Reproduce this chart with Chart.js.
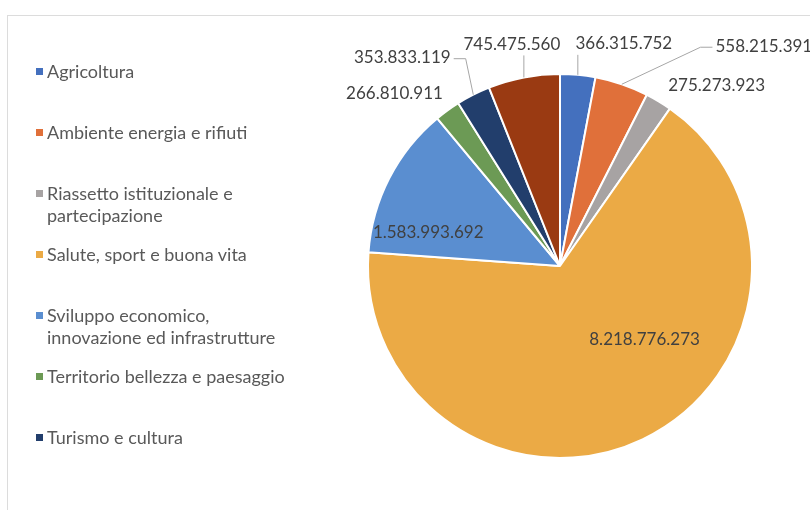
<!DOCTYPE html>
<html>
<head>
<meta charset="utf-8">
<script src="https://cdn.jsdelivr.net/npm/chart.js@4"></script>
<style>
  body { margin: 0; background: #fff; }
  #wrap { position: relative; width: 810px; height: 510px; overflow: hidden; }
  #frame { position: absolute; left: 7px; top: 15px; width: 820px; height: 520px;
           border-left: 1px solid #dcdcdc; border-top: 1px solid #dcdcdc; }
  #legend { position: absolute; left: 36px; top: 0; font-family: Lato, sans-serif;
            font-size: 18px; color: #595959; }
  .item { position: absolute; left: 0; width: 248px; line-height: 22px; padding-left: 11px; }
  .item span { position: absolute; left: 0; top: 8px; width: 7px; height: 7px; }
</style>
</head>
<body>
<div id="wrap">
  <div id="frame"></div>
  <canvas id="pieChart" width="810" height="510"></canvas>
  <div id="legend"></div>
</div>
<script>
var categories = ["Agricoltura", "Ambiente energia e rifiuti", "Riassetto istituzionale e partecipazione",
  "Salute, sport e buona vita", "Sviluppo economico, innovazione ed infrastrutture",
  "Territorio bellezza e paesaggio", "Turismo e cultura", "Altro"];
var values = [366315752, 558215391, 275273923, 8218776273, 1583993692, 266810911, 353833119, 745475560];
var colors = ["#4470be", "#e0703a", "#a7a3a3", "#ebaa45", "#5a8ed0", "#6c9a55", "#223e6c", "#9a3a12"];
// legend shows only the first 7 entries (last one is cut off in the original)
var legendCount = 7;

// label placement, offset from the outer edge of each slice at its mid angle
var labelPos = [
  { dx: 46, dy: -31, line: "v" },
  { dx: 142, dy: -38, line: "h" },
  { dx: 58, dy: -16 },
  { dx: 2, dy: -100 },
  { dx: 39, dy: 54 },
  { dx: -53, dy: -17 },
  { dx: -71, dy: -37, line: "h" },
  { dx: -12, dy: -33, line: "v" },
];

function fmt(v) {
  return String(v).replace(/\B(?=(\d{3})+(?!\d))/g, ".");
}

var legend = document.getElementById("legend");
for (var i = 0; i < legendCount; i++) {
  var d = document.createElement("div");
  d.className = "item";
  d.style.top = (60 + i * 61) + "px";
  d.innerHTML = '<span style="background:' + colors[i] + '"></span>' + categories[i];
  legend.appendChild(d);
}

var labelPlugin = {
  id: "sliceLabels",
  afterDatasetsDraw: function (chart) {
    var ctx = chart.ctx;
    var meta = chart.getDatasetMeta(0);
    ctx.save();
    ctx.font = "17px Lato";
    ctx.fillStyle = "#404040";
    ctx.strokeStyle = "#a6a6a6";
    ctx.lineWidth = 1;
    ctx.textAlign = "center";
    ctx.textBaseline = "middle";
    meta.data.forEach(function (arc, i) {
      var mid = (arc.startAngle + arc.endAngle) / 2;
      var px = arc.x + arc.outerRadius * Math.cos(mid);
      var py = arc.y + arc.outerRadius * Math.sin(mid);
      var p = labelPos[i];
      var tx = px + p.dx, ty = py + p.dy;
      var text = fmt(values[i]);
      var w = ctx.measureText(text).width;
      if (p.line === "v") {
        ctx.beginPath();
        ctx.moveTo(px, py);
        ctx.lineTo(px, ty + 11);
        ctx.stroke();
      } else if (p.line === "h") {
        var side = p.dx > 0 ? -1 : 1;
        var ex = tx + side * (w / 2 + 3);
        ctx.beginPath();
        ctx.moveTo(px, py);
        ctx.lineTo(ex + side * 12, ty + 1);
        ctx.lineTo(ex, ty + 1);
        ctx.stroke();
      }
      ctx.fillText(text, tx, ty);
    });
    ctx.restore();
  },
};

new Chart("pieChart", {
  type: "pie",
  data: {
    labels: categories,
    datasets: [
      {
        data: values,
        backgroundColor: colors,
        borderColor: "#ffffff",
        borderWidth: 2,
      },
    ],
  },
  options: {
    responsive: false,
    animation: false,
    layout: {
      padding: { left: 367, right: 57, top: 73, bottom: 51 },
    },
    plugins: {
      legend: { display: false },
      tooltip: { enabled: false },
    },
  },
  plugins: [labelPlugin],
});
</script>
</body>
</html>
